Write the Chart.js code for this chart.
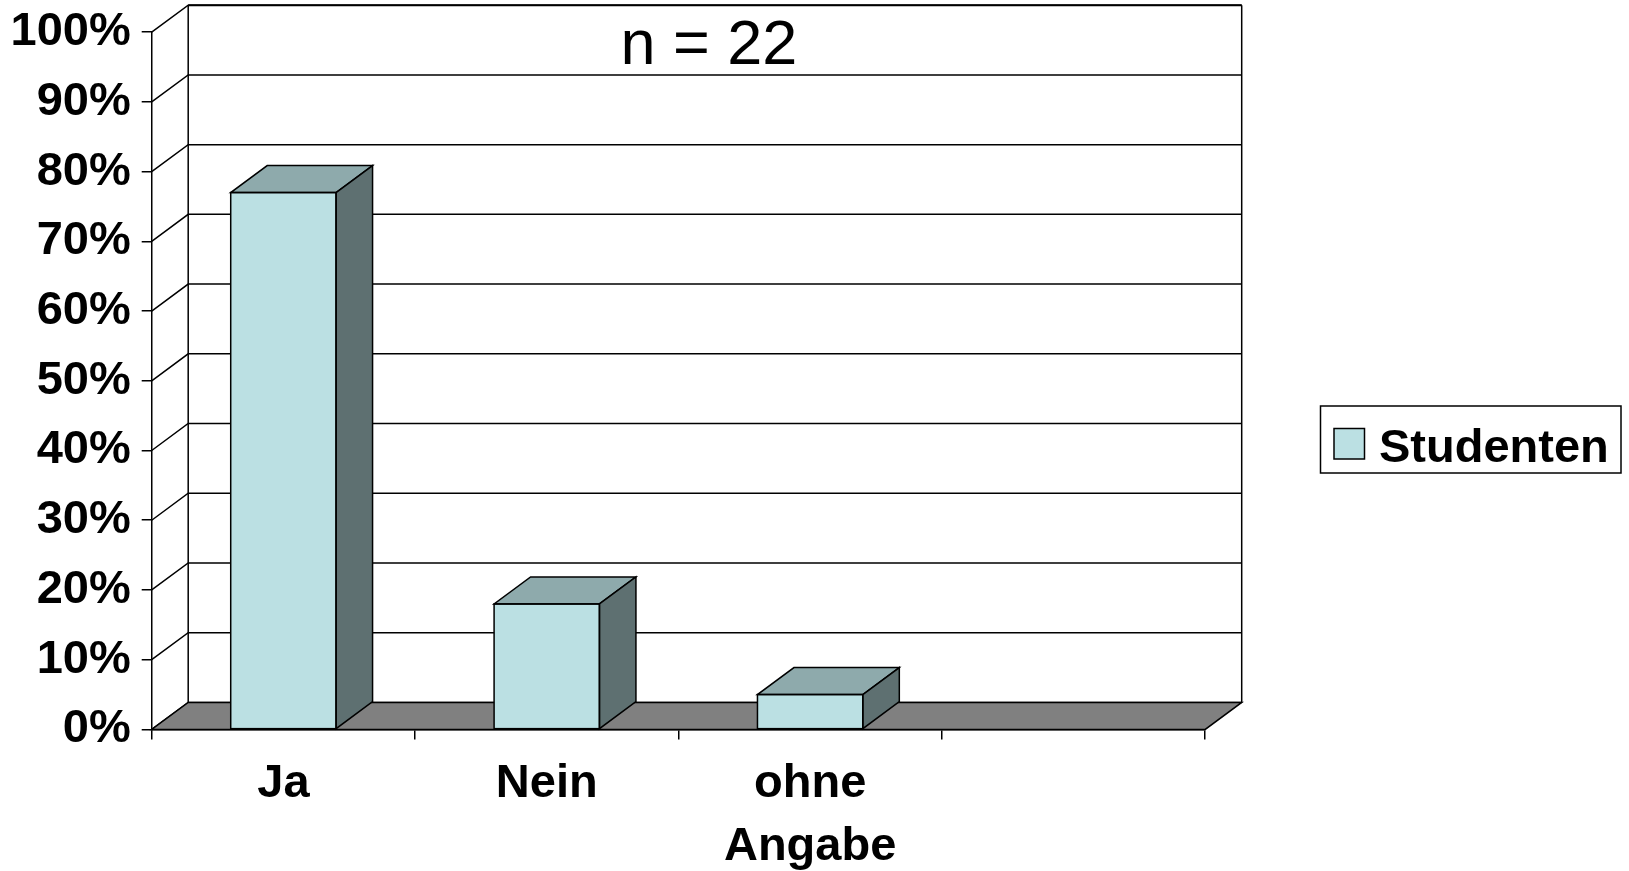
<!DOCTYPE html>
<html>
<head>
<meta charset="utf-8">
<script src="https://cdn.jsdelivr.net/npm/chart.js@4/dist/chart.umd.min.js"></script>
<style>
html, body { margin: 0; padding: 0; background: #ffffff; }
canvas { display: block; }
</style>
</head>
<body>
<canvas id="c" width="1629" height="871"></canvas>
<script>
// ---- data ----
const categories = ['Ja', 'Nein', ['ohne', 'Angabe'], ''];
const studentenValues = [77, 18, 5, null];
const seriesLabel = 'Studenten';
const yTickValues = [0, 10, 20, 30, 40, 50, 60, 70, 80, 90, 100];
const yTickLabels = ['0%', '10%', '20%', '30%', '40%', '50%', '60%', '70%', '80%', '90%', '100%'];
const titleText = 'n = 22';

// ---- style ----
const FONT = '"Liberation Sans", Arial, Helvetica, sans-serif';
const DX = 36.5, DY = 27;
const FRONT = '#BBE0E3', TOP = '#8EAAAC', SIDE = '#5E7071', FLOOR = '#808080';
const LINE = '#000000';

function poly(ctx, pts, fill) {
  ctx.beginPath();
  ctx.moveTo(pts[0][0], pts[0][1]);
  for (let i = 1; i < pts.length; i++) ctx.lineTo(pts[i][0], pts[i][1]);
  ctx.closePath();
  if (fill) { ctx.fillStyle = fill; ctx.fill(); }
  ctx.stroke();
}

const threeD = {
  id: 'threeD',
  beforeDatasetsDraw(chart) {
    const { ctx, chartArea } = chart;
    const { left, right, top, bottom } = chartArea;
    const y = chart.scales.y;
    ctx.save();
    ctx.strokeStyle = LINE;
    ctx.lineWidth = 1.5;
    ctx.lineJoin = 'miter';
    // grid lines: side wall diagonals + back wall horizontals
    y.ticks.forEach(t => {
      const py = y.getPixelForValue(t.value);
      ctx.beginPath();
      ctx.moveTo(left, py);
      ctx.lineTo(left + DX, py - DY);
      ctx.lineTo(right + DX, py - DY);
      ctx.stroke();
    });
    // back wall verticals
    ctx.beginPath();
    ctx.moveTo(left + DX, top - DY); ctx.lineTo(left + DX, bottom - DY);
    ctx.moveTo(right + DX, top - DY); ctx.lineTo(right + DX, bottom - DY);
    ctx.stroke();
    // top border slightly heavier
    ctx.lineWidth = 2;
    ctx.beginPath();
    ctx.moveTo(left + DX, top - DY); ctx.lineTo(right + DX, top - DY);
    ctx.stroke();
    ctx.lineWidth = 1.5;
    // floor
    poly(ctx, [[left, bottom], [right, bottom], [right + DX, bottom - DY], [left + DX, bottom - DY]], FLOOR);
    // title on back wall
    ctx.fillStyle = '#000';
    ctx.font = '63px ' + FONT;
    ctx.textAlign = 'center';
    ctx.textBaseline = 'alphabetic';
    ctx.fillText(titleText, left + DX + (right - left) / 2 - 6, 63.5);
    ctx.restore();
  },
  afterDatasetsDraw(chart) {
    const { ctx } = chart;
    ctx.save();
    ctx.strokeStyle = LINE;
    ctx.lineWidth = 1.5;
    chart.data.datasets.forEach((ds, di) => {
      const meta = chart.getDatasetMeta(di);
      meta.data.forEach((bar, i) => {
        if (ds.data[i] === null || ds.data[i] === undefined) return;
        const p = bar.getProps(['x', 'y', 'base', 'width'], true);
        const l = p.x - p.width / 2, r = p.x + p.width / 2;
        poly(ctx, [[l, p.y], [r, p.y], [r + DX, p.y - DY], [l + DX, p.y - DY]], TOP);
        poly(ctx, [[r, p.y], [r + DX, p.y - DY], [r + DX, p.base - DY], [r, p.base]], SIDE);
        ctx.strokeRect(l, p.y, p.width, p.base - p.y);
      });
    });
    ctx.restore();
  },
  afterDraw(chart) {
    const { ctx } = chart;
    ctx.save();
    // legend box
    ctx.strokeStyle = LINE;
    ctx.lineWidth = 1.5;
    ctx.fillStyle = '#fff';
    ctx.fillRect(1320.5, 406, 300.5, 67);
    ctx.strokeRect(1320.5, 406, 300.5, 67);
    ctx.fillStyle = FRONT;
    ctx.fillRect(1334, 428.5, 30.5, 30.5);
    ctx.strokeRect(1334, 428.5, 30.5, 30.5);
    ctx.fillStyle = '#000';
    ctx.font = 'bold 47px ' + FONT;
    ctx.textAlign = 'left';
    ctx.textBaseline = 'alphabetic';
    ctx.fillText(chart.data.datasets[0].label, 1379, 461.5);
    ctx.restore();
  }
};

const tickFont = { family: FONT, size: 47, weight: 'bold' };

new Chart(document.getElementById('c'), {
  type: 'bar',
  data: {
    labels: categories,
    datasets: [{
      label: seriesLabel,
      data: studentenValues,
      backgroundColor: FRONT,
      borderColor: LINE,
      borderWidth: 0,
      borderSkipped: false,
      barPercentage: 0.4,
      categoryPercentage: 1
    }]
  },
  options: {
    responsive: false,
    animation: false,
    devicePixelRatio: 1,
    layout: { padding: { left: 0, top: 32.2, right: 423.8, bottom: 0 } },
    plugins: {
      legend: { display: false },
      tooltip: { enabled: false },
      title: { display: false }
    },
    scales: {
      x: {
        offset: true,
        grid: { offset: true, drawOnChartArea: false, color: LINE, lineWidth: 1.5, tickLength: 10 },
        border: { color: LINE, width: 1.5 },
        ticks: { color: '#000', font: { ...tickFont, lineHeight: 1.34 }, padding: 13.5, maxRotation: 0, minRotation: 0, autoSkip: false },
        afterFit: s => { s.height = 871 - 729.4; s.paddingLeft = 0; s.paddingRight = 0; }
      },
      y: {
        min: 0,
        max: 100,
        grid: { drawOnChartArea: false, color: LINE, lineWidth: 1.5, tickLength: 10 },
        border: { color: LINE, width: 1.5 },
        ticks: { color: '#000', font: tickFont, padding: 11, callback: (v, i) => yTickLabels[i] },
        afterBuildTicks: s => { s.ticks = yTickValues.map(v => ({ value: v })); },
        afterFit: s => { s.width = 151.7; s.paddingTop = 0; s.paddingBottom = 0; }
      }
    }
  },
  plugins: [threeD]
});
</script>
</body>
</html>
